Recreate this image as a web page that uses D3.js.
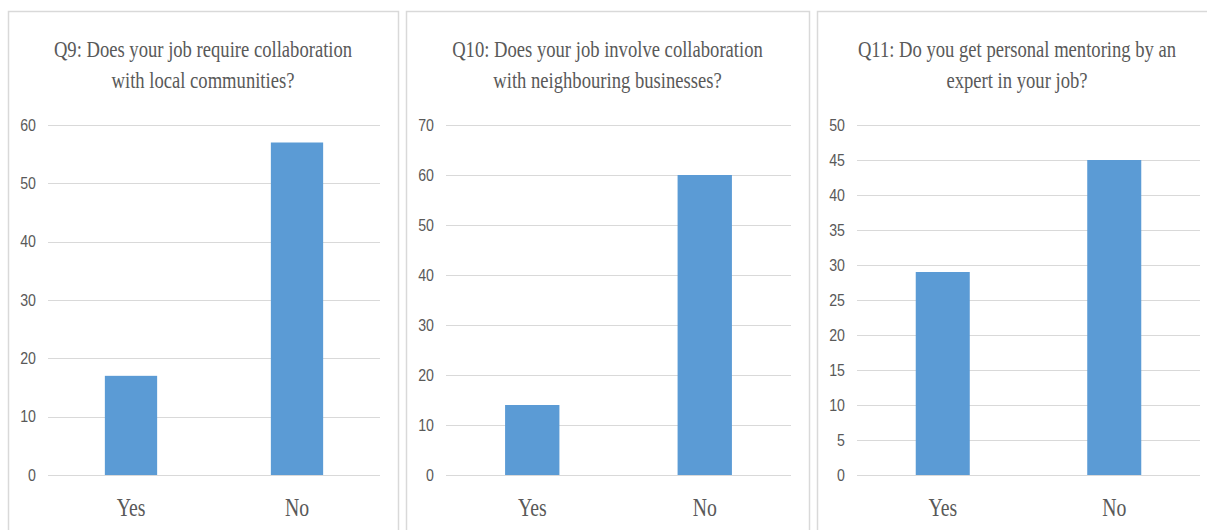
<!DOCTYPE html>
<html>
<head>
<meta charset="utf-8">
<script src="https://cdn.jsdelivr.net/npm/d3@7"></script>
<style>
  html, body { margin: 0; padding: 0; background: #ffffff; }
  svg { display: block; }
</style>
</head>
<body>
<svg id="chart" width="1207" height="530"></svg>
<script>
// Survey answers (counts of respondents)
const categories = ["Yes", "No"];

const q9Title = ["Q9: Does your job require collaboration", "with local communities?"];
const q9Values = [17, 57];
const q9Ticks = [0, 10, 20, 30, 40, 50, 60];

const q10Title = ["Q10: Does your job involve collaboration", "with neighbouring businesses?"];
const q10Values = [14, 60];
const q10Ticks = [0, 10, 20, 30, 40, 50, 60, 70];

const q11Title = ["Q11: Do you get personal mentoring by an", "expert in your job?"];
const q11Values = [29, 45];
const q11Ticks = [0, 5, 10, 15, 20, 25, 30, 35, 40, 45, 50];

const svg = d3.select("#chart");

const BAR = "#5b9bd5";
const GRID = "#d9d9d9";
const BORDER = "#d9d9d9";
const TEXT = "#595959";

// Horizontally condensed text helper
function condensedText(g, x, y, str, opts) {
  return g.append("text")
    .attr("transform", `translate(${x},${y}) scale(${opts.sx},1)`)
    .attr("text-anchor", opts.anchor || "middle")
    .attr("dy", opts.dy || 0)
    .attr("font-family", opts.family)
    .attr("font-size", opts.size)
    .attr("fill", opts.fill || TEXT)
    .text(str);
}

function drawPanel(box, title, values, ticks) {
  const g = svg.append("g");

  // Chart frame
  g.append("rect")
    .attr("x", box.left + 0.5).attr("y", box.top + 0.5)
    .attr("width", box.right - box.left).attr("height", 560 - box.top)
    .attr("fill", "#ffffff").attr("stroke", BORDER).attr("stroke-width", 1.5);

  const cx = (box.left + box.right) / 2;
  title.forEach((line, i) => {
    condensedText(g, cx, 57 + i * 31, line,
      { sx: 0.81, family: "'Liberation Serif', 'Times New Roman', serif", size: 23 });
  });

  const x = d3.scaleBand()
    .domain(categories)
    .range([box.plotLeft, box.plotRight])
    .paddingInner(0.685)
    .paddingOuter(0.3425);

  const y = d3.scaleLinear()
    .domain([0, d3.max(ticks)])
    .range([475, 125]);

  // Horizontal gridlines
  g.append("g").selectAll("line")
    .data(ticks)
    .join("line")
    .attr("x1", box.plotLeft).attr("x2", box.plotRight)
    .attr("y1", d => Math.round(y(d)) + 0.5).attr("y2", d => Math.round(y(d)) + 0.5)
    .attr("stroke", GRID).attr("stroke-width", 1.2);

  // Value axis labels
  const yAxis = d3.axisLeft(y).tickValues(ticks).tickSize(0).tickPadding(0);
  const ya = g.append("g").attr("transform", `translate(${box.plotLeft - 12},0)`).call(yAxis);
  ya.select(".domain").remove();
  ya.selectAll("text")
    .attr("font-family", "'Liberation Sans', Arial, sans-serif")
    .attr("font-size", 16.5)
    .attr("fill", TEXT)
    .attr("transform", "scale(0.86,1)")
    .attr("x", 0)
    .attr("dx", 0);

  // Bars
  g.append("g").selectAll("rect")
    .data(values)
    .join("rect")
    .attr("x", (d, i) => x(categories[i]))
    .attr("width", x.bandwidth())
    .attr("y", d => y(d))
    .attr("height", d => y(0) - y(d))
    .attr("fill", BAR);

  // Category labels
  const xAxis = d3.axisBottom(x).tickSize(0).tickPadding(0);
  const xa = g.append("g").attr("transform", `translate(0,${y(0)})`).call(xAxis);
  xa.select(".domain").remove();
  xa.selectAll("text")
    .attr("font-family", "'Liberation Serif', 'Times New Roman', serif")
    .attr("font-size", 26)
    .attr("fill", TEXT)
    .attr("y", 0)
    .attr("dy", 0)
    .attr("transform", "translate(0,41) scale(0.76,1)");
}

drawPanel({ left: 8, right: 398, top: 11, plotLeft: 48, plotRight: 380 }, q9Title, q9Values, q9Ticks);
drawPanel({ left: 406, right: 809, top: 11, plotLeft: 446, plotRight: 791 }, q10Title, q10Values, q10Ticks);
drawPanel({ left: 817, right: 1217, top: 11, plotLeft: 857, plotRight: 1200 }, q11Title, q11Values, q11Ticks);
</script>
</body>
</html>
